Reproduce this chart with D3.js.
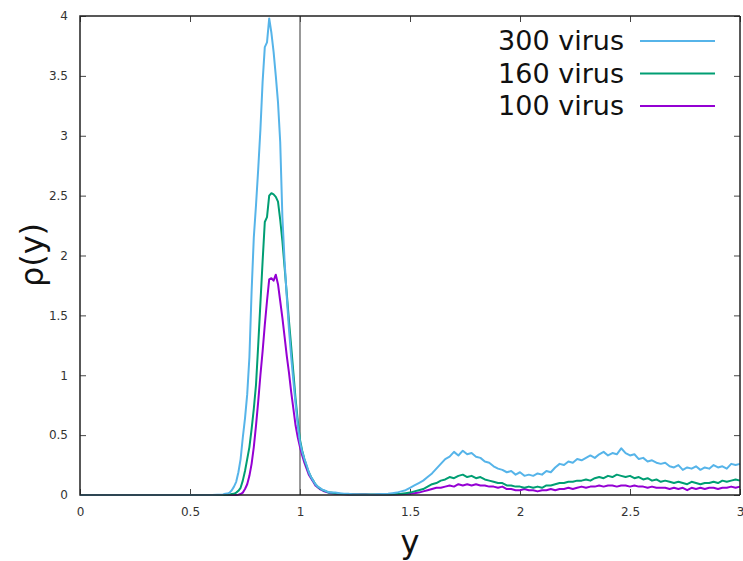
<!DOCTYPE html>
<html><head><meta charset="utf-8">
<script src="https://cdn.jsdelivr.net/npm/d3@7"></script>
<style>body{margin:0;background:#fff}svg{display:block}text{font-family:"DejaVu Sans",sans-serif}</style>
</head><body><svg id="c" width="743" height="561"></svg>
<script>
// sampling grid of the density (y coordinate)
const xCoarse = [0,0.05,0.1,0.15,0.2,0.25,0.3,0.35,0.4,0.45,0.5,0.55,0.6,0.65];
const xPeak = d3.range(66,115).map(i=>i/100);      // 0.66 .. 1.14
const xTail = d3.range(58,151).map(i=>i/50);       // 1.16 .. 3.00
const xs = xCoarse.concat(xPeak, xTail);

const seriesNames = ["300 virus","160 virus","100 virus"];
const seriesColors = ["#56b4e9","#009e73","#9400d3"];

const v300coarse = [0,0,0,0,0,0,0,0,0,0,0,0,0,0.005];
const v300peak = [0.01,0.012,0.02,0.04,0.07,0.11,0.19,0.30,0.48,0.64,0.84,1.15,1.70,2.15,2.42,2.72,3.05,3.45,3.74,3.78,3.98,3.86,3.70,3.50,3.28,2.95,2.32,1.95,1.65,1.38,1.15,0.95,0.76,0.58,0.44,
 0.36,0.30,0.25,0.19,0.15,0.12,0.09,0.07,0.06,0.045,0.04,0.03,0.025,0.02];
const v300tail = [0.02,0.015,0.01,0.01,0.005,0.004,0.003,0.003,0.003,0.004,0.006,0.008,0.01,0.015,0.02,0.03,0.04,0.06,0.08,0.10,0.12,0.15,0.18,0.22,0.26,0.30,0.32,0.36,0.33,0.37,0.34,0.35,0.32,0.31,0.28,0.27,0.24,0.22,0.21,0.19,0.20,0.17,0.19,0.16,0.17,0.16,0.18,0.17,0.20,0.19,0.23,0.26,0.25,0.28,0.27,0.30,0.29,0.31,0.33,0.31,0.34,0.36,0.33,0.35,0.34,0.39,0.35,0.33,0.34,0.30,0.31,0.28,0.29,0.27,0.26,0.27,0.24,0.23,0.25,0.21,0.23,0.22,0.24,0.21,0.23,0.22,0.25,0.23,0.24,0.22,0.26,0.25,0.26];

const v160coarse = [0,0,0,0,0,0,0,0,0,0,0,0,0,0];
const v160peak = [0,0.003,0.005,0.008,0.01,0.02,0.035,0.06,0.12,0.20,0.30,0.40,0.55,0.72,0.92,1.25,1.60,1.95,2.28,2.32,2.50,2.52,2.51,2.49,2.45,2.30,2.12,1.90,1.68,1.45,1.24,1.02,0.80,0.62,0.46,
 0.37,0.30,0.24,0.19,0.15,0.12,0.09,0.07,0.055,0.045,0.035,0.03,0.02,0.02];
const v160tail = [0.015,0.01,0.008,0.006,0.005,0.005,0.005,0.005,0.004,0.004,0.005,0.005,0.005,0.006,0.008,0.01,0.015,0.02,0.03,0.04,0.05,0.07,0.09,0.10,0.12,0.13,0.15,0.14,0.16,0.17,0.15,0.16,0.14,0.15,0.13,0.12,0.11,0.10,0.10,0.08,0.08,0.07,0.07,0.06,0.07,0.06,0.07,0.06,0.08,0.08,0.09,0.10,0.10,0.11,0.11,0.12,0.12,0.13,0.12,0.14,0.15,0.14,0.16,0.15,0.17,0.16,0.15,0.16,0.14,0.15,0.13,0.14,0.12,0.13,0.11,0.12,0.11,0.10,0.11,0.10,0.09,0.11,0.10,0.09,0.10,0.10,0.11,0.10,0.12,0.11,0.12,0.13,0.12];

const v100coarse = [0,0,0,0,0,0,0,0,0,0,0,0,0,0];
const v100peak = [0,0,0,0,0,0,0.003,0.008,0.02,0.05,0.09,0.16,0.26,0.40,0.58,0.78,1.00,1.20,1.42,1.62,1.80,1.81,1.79,1.84,1.76,1.62,1.48,1.32,1.16,1.02,0.86,0.72,0.58,0.48,0.40,
 0.33,0.27,0.22,0.17,0.14,0.11,0.08,0.065,0.05,0.04,0.03,0.025,0.02,0.015];
const v100tail = [0.01,0.008,0.006,0.005,0.004,0.004,0.004,0.004,0.003,0.003,0.004,0.004,0.004,0.005,0.005,0.006,0.008,0.01,0.015,0.02,0.03,0.04,0.05,0.06,0.06,0.07,0.08,0.07,0.09,0.08,0.09,0.08,0.09,0.08,0.08,0.07,0.07,0.06,0.07,0.05,0.05,0.04,0.04,0.05,0.04,0.04,0.03,0.04,0.04,0.05,0.04,0.05,0.05,0.06,0.05,0.06,0.07,0.06,0.07,0.07,0.08,0.07,0.08,0.08,0.07,0.08,0.08,0.07,0.08,0.07,0.07,0.06,0.07,0.06,0.06,0.06,0.05,0.06,0.05,0.06,0.04,0.06,0.05,0.06,0.05,0.06,0.06,0.05,0.06,0.06,0.07,0.06,0.07];

const seriesValues = [
  v300coarse.concat(v300peak, v300tail),
  v160coarse.concat(v160peak, v160tail),
  v100coarse.concat(v100peak, v100tail)
];

const xTicks = [0,0.5,1,1.5,2,2.5,3];
const yTicks = [0,0.5,1,1.5,2,2.5,3,3.5,4];
const xLabel = "y", yLabel = "ρ(y)";

const L=80, R=740, T=16, B=495;
const svg = d3.select("#c");
const x = d3.scaleLinear().domain([0,3]).range([L,R]);
const y = d3.scaleLinear().domain([0,4]).range([B,T]);
const fmt = d => String(d);

// ticks mirrored on all four sides (inward)
const axB = svg.append("g").attr("transform",`translate(0,${B})`).call(d3.axisBottom(x).tickValues(xTicks).tickFormat(fmt).tickSize(-6).tickPadding(12));
const axT = svg.append("g").attr("transform",`translate(0,${T})`).call(d3.axisTop(x).tickValues(xTicks).tickFormat("").tickSize(-6));
const axL = svg.append("g").attr("transform",`translate(${L},0)`).call(d3.axisLeft(y).tickValues(yTicks).tickFormat(fmt).tickSize(-6).tickPadding(12));
const axR = svg.append("g").attr("transform",`translate(${R},0)`).call(d3.axisRight(y).tickValues(yTicks).tickFormat("").tickSize(-6));
[axB,axT,axL,axR].forEach(g=>{
  g.select(".domain").remove();
  g.selectAll(".tick line").attr("stroke","#444").attr("stroke-width",1);
  g.selectAll("text").attr("fill","#333").style("font-size","12px");
});

// vertical line at y = 1
svg.append("line").attr("x1",x(1)).attr("x2",x(1)).attr("y1",T).attr("y2",B).attr("stroke","#555").attr("stroke-width",1.2);

const line = d3.line().x((d,i)=>x(xs[i])).y(d=>y(d));
[2,1,0].forEach(k=>{
  svg.append("path").datum(seriesValues[k]).attr("d",line).attr("fill","none")
    .attr("stroke",seriesColors[k]).attr("stroke-width",2).attr("stroke-linejoin","round");
});

// frame
svg.append("path").attr("d",`M${R},${T}H${L}V${B}H${R}`).attr("fill","none").attr("stroke","#222").attr("stroke-width",1.5);
svg.append("line").attr("x1",R).attr("x2",R).attr("y1",T).attr("y2",B).attr("stroke","#222").attr("stroke-width",1.5);

// legend
seriesNames.forEach((n,k)=>{
  const yy = 41 + k*32.5;
  svg.append("text").attr("x",624).attr("y",yy+9).attr("text-anchor","end").style("font-size","27px").attr("fill","#111").text(n);
  svg.append("line").attr("x1",640).attr("x2",715).attr("y1",yy).attr("y2",yy).attr("stroke",seriesColors[k]).attr("stroke-width",2);
});

// axis labels
svg.append("text").attr("x",410).attr("y",553).attr("text-anchor","middle").style("font-size","32px").attr("fill","#111").text(xLabel);
svg.append("text").attr("transform","translate(43,255) rotate(-90)").attr("text-anchor","middle").style("font-size","32px").attr("fill","#111").text(yLabel);
</script></body></html>
